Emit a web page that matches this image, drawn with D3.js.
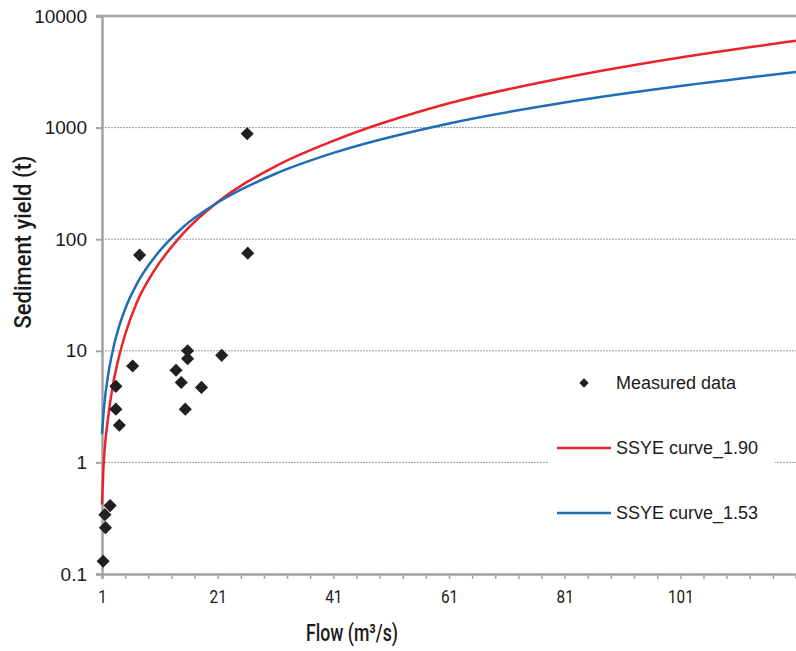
<!DOCTYPE html>
<html>
<head>
<meta charset="utf-8">
<script src="https://cdn.jsdelivr.net/npm/d3@7"></script>
<style>
  body { margin: 0; background: #fff; }
  svg { display: block; }
</style>
</head>
<body>
<div id="chart"></div>
<script>
// measured flow (m3/s) and sediment yield (t)
const measuredFlow  = [7.5, 26.2, 26.1, 15.8, 15.8, 21.7, 6.3, 13.8, 14.7, 18.2, 15.4, 3.4, 3.4, 4.0, 2.4, 1.5, 1.6, 1.2];
const measuredYield = [72, 75, 880, 10.0, 8.5, 9.1, 7.3, 6.7, 5.2, 4.7, 3.0, 4.8, 3.0, 2.15, 0.41, 0.34, 0.26, 0.13];

// SSYE curves
const curveFlow   = [1, 1.25, 1.5, 2, 3, 4, 5, 7, 10, 15, 21, 31, 41, 61, 81, 101, 121];
const curve190    = [0.42, 0.9, 1.4, 2.4, 5.3, 9.1, 14, 27, 52, 112, 215, 450, 760, 1650, 2800, 4250, 6000];
const curve153    = [1.8, 2.7, 3.7, 5.8, 10.8, 16.8, 23.7, 39.6, 68, 128, 213, 386, 593, 1090, 1680, 2360, 3150];

const yTicks = [0.1, 1, 10, 100, 1000, 10000];
const xLabels = [1, 21, 41, 61, 81, 101];
const xMinor = d3.range(1, 122, 4);

const W = 796, H = 651;
const plotL = 102, plotR = 796, plotT = 16, plotB = 574;

const svg = d3.select("#chart").append("svg").attr("width", W).attr("height", H);

const x = d3.scaleLinear().domain([1, 121]).range([plotL, plotR]);
const y = d3.scaleLog().domain([0.1, 10000]).range([plotB, plotT]);

const axisColor = "#a3a3a6";
const textColor = "#1a1a1a";

// gridlines
svg.append("g").selectAll("line")
  .data(yTicks.filter(d => d > 0.1 && d < 10000))
  .join("line")
  .attr("x1", plotL).attr("x2", plotR)
  .attr("y1", d => y(d)).attr("y2", d => y(d))
  .attr("stroke", "#9a9a9a").attr("stroke-width", 1)
  .attr("stroke-dasharray", "2,1");

// top border
svg.append("line")
  .attr("x1", plotL - 6).attr("x2", plotR)
  .attr("y1", y(10000)).attr("y2", y(10000))
  .attr("stroke", axisColor).attr("stroke-width", 2.5);

// y axis
const yAxis = svg.append("g")
  .attr("transform", `translate(${plotL},0)`)
  .call(d3.axisLeft(y).tickValues(yTicks).tickFormat(d => String(d)).tickSize(6).tickPadding(9));
yAxis.select(".domain").attr("stroke", axisColor).attr("stroke-width", 2.5);
yAxis.selectAll(".tick line").attr("stroke", axisColor).attr("stroke-width", 2);
yAxis.selectAll(".tick text")
  .attr("fill", textColor).style("font-family", "Liberation Sans, Arial, sans-serif").style("font-size", "19px");

// x axis
const xAxis = svg.append("g")
  .attr("transform", `translate(0,${plotB})`)
  .call(d3.axisBottom(x).tickValues(xMinor).tickFormat(d => xLabels.includes(d) ? d : "").tickSize(5).tickPadding(11));
xAxis.select(".domain").attr("stroke", axisColor).attr("stroke-width", 2.5);
xAxis.selectAll(".tick line").attr("stroke", axisColor).attr("stroke-width", 1.5);
xAxis.selectAll(".tick text")
  .attr("fill", textColor).style("font-family", "Roboto, sans-serif").style("font-size", "18.5px")
  .each(function(d) {
    if (xLabels.includes(d)) {
      d3.select(this).attr("textLength", String(d).length * 8.6).attr("lengthAdjust", "spacingAndGlyphs");
    }
  });

// axis titles
svg.append("text")
  .attr("x", 352).attr("y", 641)
  .attr("text-anchor", "middle")
  .attr("textLength", 92).attr("lengthAdjust", "spacingAndGlyphs")
  .style("font-family", "Roboto, sans-serif").style("font-weight", 500)
  .style("font-size", "24px").attr("fill", textColor)
  .text("Flow (m³/s)");

svg.append("text")
  .attr("transform", "translate(31,242) rotate(-90)")
  .attr("text-anchor", "middle")
  .attr("textLength", 173).attr("lengthAdjust", "spacingAndGlyphs")
  .style("font-family", "Roboto, sans-serif").style("font-weight", 500)
  .style("font-size", "24px").attr("fill", textColor)
  .text("Sediment yield (t)");

// curves
const line = d3.line().x(d => x(d[0])).y(d => y(d[1])).curve(d3.curveMonotoneX);
const redColor = "#e8232b", blueColor = "#1f6db4";

svg.append("path")
  .datum(curveFlow.map((f, i) => [f, curve190[i]]))
  .attr("d", line).attr("fill", "none")
  .attr("stroke", redColor).attr("stroke-width", 2.5);

svg.append("path")
  .datum(curveFlow.map((f, i) => [f, curve153[i]]))
  .attr("d", line).attr("fill", "none")
  .attr("stroke", blueColor).attr("stroke-width", 2.5);

// measured points
const diamond = d3.symbol().type(d3.symbolDiamond2).size(110);
svg.append("g").selectAll("path")
  .data(measuredFlow.map((f, i) => [f, measuredYield[i]]))
  .join("path")
  .attr("d", diamond)
  .attr("transform", d => `translate(${x(d[0])},${y(d[1])})`)
  .attr("fill", "#231f20");

// legend
const legend = svg.append("g");
legend.append("rect")
  .attr("x", 548).attr("y", 362).attr("width", 227).attr("height", 175)
  .attr("fill", "#fff");
legend.append("path")
  .attr("d", d3.symbol().type(d3.symbolDiamond2).size(55))
  .attr("transform", "translate(584,383)")
  .attr("fill", "#231f20");
legend.append("line")
  .attr("x1", 557).attr("x2", 611).attr("y1", 448).attr("y2", 448)
  .attr("stroke", redColor).attr("stroke-width", 2.5);
legend.append("line")
  .attr("x1", 557).attr("x2", 611).attr("y1", 513).attr("y2", 513)
  .attr("stroke", blueColor).attr("stroke-width", 2.5);

const legendText = ["Measured data", "SSYE curve_1.90", "SSYE curve_1.53"];
legend.selectAll("text.lab")
  .data(legendText)
  .join("text")
  .attr("class", "lab")
  .attr("x", 616)
  .attr("y", (d, i) => [389, 454, 519][i])
  .style("font-family", "Liberation Sans, Arial, sans-serif")
  .style("font-size", "18px").attr("fill", textColor)
  .text(d => d);
</script>
</body>
</html>
